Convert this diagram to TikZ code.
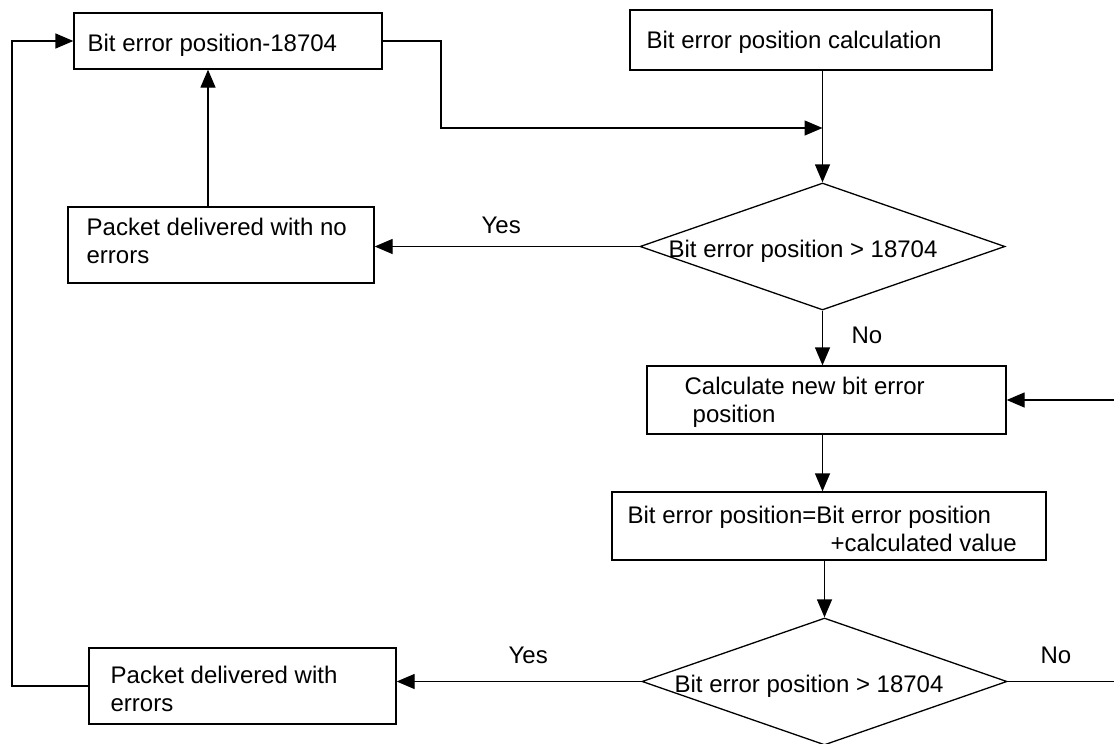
\documentclass[tikz,border=0pt]{standalone}
\usepackage{fontspec}
\setmainfont{Liberation Sans}
\usetikzlibrary{shapes.geometric,arrows.meta}
\begin{document}
\begin{tikzpicture}[x=0.5pt,y=-0.5pt,
  line width=0.65pt,
  every node/.style={font=\fontsize{12}{14}\selectfont},
  box/.style={draw, rectangle, inner sep=0pt},
  choice/.style={draw, diamond, inner sep=0pt, minimum width=182.5pt, minimum height=63.5pt},
  txt/.style={inner sep=0pt, anchor=base west, align=left},
  lbl/.style={inner sep=0pt, anchor=base west},
  arr/.style={-{Triangle[length=9pt,width=7.5pt]}},
]
\useasboundingbox (0,0) rectangle (1114,744);
\clip (0,0) rectangle (1114,744);

% process boxes
\node[box, minimum width=154pt,   minimum height=28pt] (A) at (228,41) {};
\node[box, minimum width=181pt,   minimum height=30pt] (B) at (811,40) {};
\node[box, minimum width=153pt,   minimum height=38pt] (N) at (221,245) {};
\node[box, minimum width=153.5pt, minimum height=38pt] (E) at (242.5,686) {};
\node[box, minimum width=179.5pt, minimum height=34pt] (C) at (826.5,400) {};
\node[box, minimum width=217pt,   minimum height=34pt] (D) at (829,526) {};

% decisions
\node[choice] (D1) at (822.5,246.5) {};
\node[choice] (D2) at (824.5,681.5) {};

% routing points
\coordinate (j1) at (441,128);
\coordinate (nx) at (208,245);
\coordinate (lx) at (12,41);
\coordinate (rx) at (1140,400);

% connectors
\draw[arr] (B.south -| D1.north) -- (D1.north);
\draw[arr] (A.east) -| (j1) -- (j1 -| D1.north);
\draw[arr] (D1.west) -- (D1.west -| N.east);
\draw[arr] (N.north -| nx) -- (nx |- A.south);
\draw[arr] (D1.south) -- (D1.south |- C.north);
\draw[arr] (D1.south |- C.south) -- (D1.south |- D.north);
\draw[arr] (D2.north |- D.south) -- (D2.north);
\draw[arr] (D2.west) -- (D2.west -| E.east);
\draw[arr] (E.west) -| (lx) -- (A.west);
\draw[arr] (D2.east) -| (rx) -- (C.east);

% texts (multi-line nodes sit on the baseline of their last line)
\node[txt] (At)  at (87,51)   {Bit error position-18704};
\node[txt] (Bt)  at (646,48)  {Bit error position calculation};
\node[txt] (Nt)  at (86,263)  {Packet delivered with no\\errors};
\node[txt] (Et)  at (110,711) {Packet delivered with\\errors};
\node[txt] (Ct)  at (684,422) {Calculate new bit error\\\hspace*{4pt}position};
\node[txt] (Dt)  at (627,551) {Bit error position=Bit error position\\\hspace*{101.5pt}+calculated value};
\node[txt] (D1t) at (668,257) {Bit error position > 18704};
\node[txt] (D2t) at (674,692) {Bit error position > 18704};

% branch labels
\node[lbl] (y1) at (481,233) {Yes};
\node[lbl] (y2) at (508,663) {Yes};
\node[lbl] (n1) at (851,343) {No};
\node[lbl] (n2) at (1040,663) {No};
\end{tikzpicture}
\end{document}
